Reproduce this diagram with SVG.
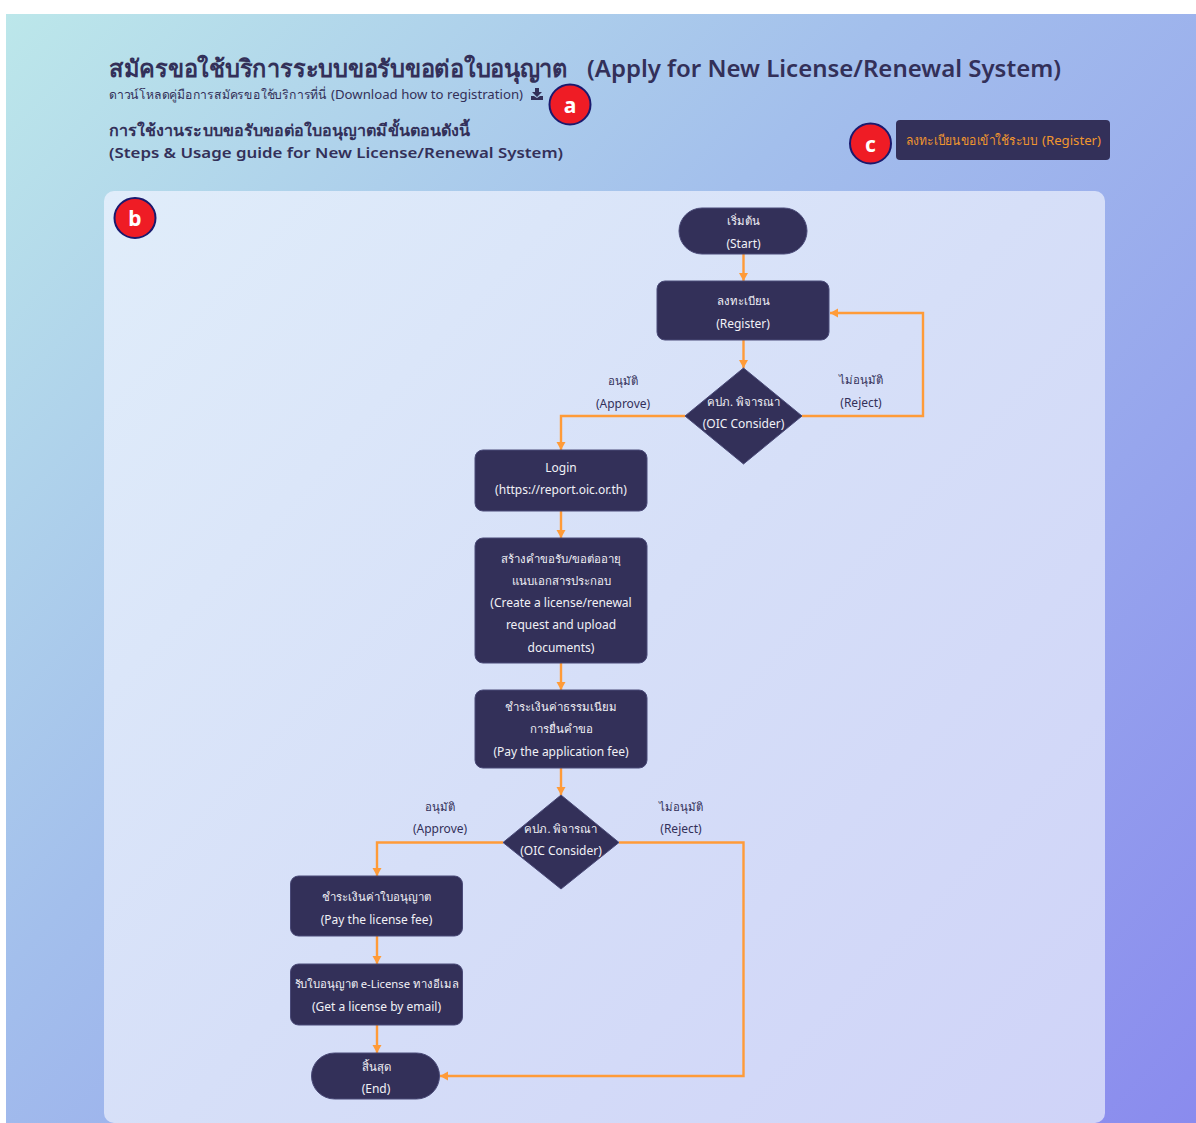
<svg xmlns="http://www.w3.org/2000/svg" width="1196" height="1123" viewBox="0 0 1196 1123">
<style>
text{font-family:"Noto Sans","Noto Sans CJK SC",sans-serif}
.n{fill:#333059;stroke:#4a4a78;stroke-width:1}
.t{fill:#f1f1f6;font-size:12px;text-anchor:middle}
.ts{fill:#f1f1f6;font-size:11.400px;text-anchor:middle}
.l{fill:#333059;font-size:12px;text-anchor:middle}
.ls{fill:#333059;font-size:11.400px;text-anchor:middle}
.b{fill:#ef1c25;stroke:#1a1a6e;stroke-width:2}
.bt{fill:#fff;font-size:21px;font-weight:700;text-anchor:middle}
.c{fill:none;stroke:#ff9b38;stroke-width:2.400;marker-end:url(#a)}
.h{fill:#333059}
</style>
<defs>
<linearGradient id="bg" gradientUnits="userSpaceOnUse" x1="6" y1="14" x2="1196" y2="1123"><stop offset="0" stop-color="#bce7ea"/><stop offset=".4" stop-color="#a3bfec"/><stop offset="1" stop-color="#8a8bee"/></linearGradient>
<linearGradient id="pg" gradientUnits="userSpaceOnUse" x1="104" y1="191" x2="1105" y2="1123"><stop offset="0" stop-color="#e0edfa"/><stop offset=".5" stop-color="#d6dff8"/><stop offset="1" stop-color="#cfd3f8"/></linearGradient>
<marker id="a" markerUnits="userSpaceOnUse" markerWidth="10" markerHeight="10" refX="8" refY="5" orient="auto"><path d="M0 0.500L8 5L0 9.500z" fill="#ff9b38"/></marker>
</defs>
<rect width="1196" height="1123" fill="#fff"/>
<rect x="6" y="14" width="1190" height="1109" fill="url(#bg)"/>
<g id="header">
<text class="h" x="109" y="77" font-size="24" font-weight="600" textLength="459" lengthAdjust="spacingAndGlyphs">สมัครขอใช้บริการระบบขอรับขอต่อใบอนุญาต</text>
<text class="h" x="587" y="77" font-size="24" font-weight="600" textLength="474" lengthAdjust="spacingAndGlyphs">(Apply for New License/Renewal System)</text>
<text class="h" x="109" y="99" font-size="12.500" textLength="218" lengthAdjust="spacingAndGlyphs">ดาวน์โหลดคู่มือการสมัครขอใช้บริการที่นี่</text>
<text class="h" x="331" y="99" font-size="12.500" textLength="192" lengthAdjust="spacingAndGlyphs">(Download how to registration)</text>
<path class="h" d="M535 88h4v4h3l-5 5l-5-5h3zM531 96h3l3 2l3-2h3v4h-12z"/>
<text class="h" x="109" y="136" font-size="16" font-weight="600" textLength="361" lengthAdjust="spacingAndGlyphs">การใช้งานระบบขอรับขอต่อใบอนุญาตมีขั้นตอนดังนี้</text>
<text class="h" x="109" y="158" font-size="15" font-weight="600" textLength="454" lengthAdjust="spacingAndGlyphs">(Steps &amp; Usage guide for New License/Renewal System)</text>
</g>
<g id="btn-register"><rect x="896" y="120" width="214" height="40" rx="4" fill="#333059"/>
<text x="906" y="145" font-size="13" fill="#f0962e" textLength="131" lengthAdjust="spacingAndGlyphs">ลงทะเบียนขอเข้าใช้ระบบ</text>
<text x="1042" y="145" font-size="13" fill="#f0962e" textLength="59" lengthAdjust="spacingAndGlyphs">(Register)</text></g>
<rect id="panel" x="104" y="191" width="1001" height="932" rx="10" fill="url(#pg)"/>
<g id="connectors">
<path class="c" d="M743.500 254V281"/><path class="c" d="M743.500 340V368"/>
<path class="c" d="M685 416H561V450"/><path class="c" d="M802 416H923V313H830"/>
<path class="c" d="M561 511V538"/><path class="c" d="M561 663V690"/><path class="c" d="M561 768V795"/>
<path class="c" d="M503 842.500H377V876"/><path class="c" d="M619 842.500H743.500V1076H440"/>
<path class="c" d="M377 936V964"/><path class="c" d="M377 1025V1053"/>
</g>
<g id="start"><rect class="n" x="679" y="208" width="128" height="46" rx="23"/><text class="ts" x="743.500" y="225">เริ่มต้น</text><text class="t" x="743.500" y="247.500">(Start)</text></g>
<g id="register"><rect class="n" x="657" y="281" width="172" height="59" rx="8"/><text class="ts" x="743" y="305">ลงทะเบียน</text><text class="t" x="743" y="327.500">(Register)</text></g>
<g id="consider1"><path class="n" d="M743.500 368L802 416L743.500 464L685 416z"/><text class="ts" x="743.500" y="406">คปภ. พิจารณา</text><text class="t" x="743.500" y="428">(OIC Consider)</text></g>
<g id="login"><rect class="n" x="475" y="450" width="172" height="61" rx="8"/><text class="t" x="561" y="472">Login</text><text class="t" x="561" y="494">(https://report.oic.or.th)</text></g>
<g id="create"><rect class="n" x="475" y="538" width="172" height="125" rx="8"/><text class="ts" x="561" y="563">สร้างคำขอรับ/ขอต่ออายุ</text><text class="ts" x="561" y="585">แนบเอกสารประกอบ</text><text class="t" x="561" y="607">(Create a license/renewal</text><text class="t" x="561" y="629">request and upload</text><text class="t" x="561" y="652">documents)</text></g>
<g id="payfee"><rect class="n" x="475" y="690" width="172" height="78" rx="8"/><text class="ts" x="561" y="711">ชำระเงินค่าธรรมเนียม</text><text class="ts" x="561" y="733">การยื่นคำขอ</text><text class="t" x="561" y="755.500">(Pay the application fee)</text></g>
<g id="consider2"><path class="n" d="M561 795L619 842.500L561 889L503 842.500z"/><text class="ts" x="561" y="833">คปภ. พิจารณา</text><text class="t" x="561" y="854.500">(OIC Consider)</text></g>
<g id="paylicense"><rect class="n" x="290.500" y="876" width="172" height="60" rx="8"/><text class="ts" x="376.500" y="901">ชำระเงินค่าใบอนุญาต</text><text class="t" x="376.500" y="923.500">(Pay the license fee)</text></g>
<g id="get"><rect class="n" x="290.500" y="964" width="172" height="61" rx="8"/><text class="ts" x="376.500" y="988" textLength="164" lengthAdjust="spacingAndGlyphs">รับใบอนุญาต e-License ทางอีเมล</text><text class="t" x="376.500" y="1010.500">(Get a license by email)</text></g>
<g id="end"><rect class="n" x="311.500" y="1053" width="128" height="46" rx="23"/><text class="ts" x="376" y="1071">สิ้นสุด</text><text class="t" x="376" y="1093">(End)</text></g>
<g id="labels">
<text class="ls" x="623" y="385">อนุมัติ</text><text class="l" x="623" y="407.500">(Approve)</text>
<text class="ls" x="861" y="384">ไม่อนุมัติ</text><text class="l" x="861" y="406.500">(Reject)</text>
<text class="ls" x="440" y="811">อนุมัติ</text><text class="l" x="440" y="833">(Approve)</text>
<text class="ls" x="681" y="811">ไม่อนุมัติ</text><text class="l" x="681" y="833">(Reject)</text>
</g>
<g id="badge-a"><ellipse class="b" cx="570" cy="104.500" rx="20.500" ry="20"/><text class="bt" x="570" y="113">a</text></g>
<g id="badge-b"><ellipse class="b" cx="135" cy="218" rx="20.500" ry="20"/><text class="bt" x="135" y="226">b</text></g>
<g id="badge-c"><ellipse class="b" cx="870.500" cy="143.500" rx="20.500" ry="20"/><text class="bt" x="870.500" y="152">c</text></g>
</svg>
